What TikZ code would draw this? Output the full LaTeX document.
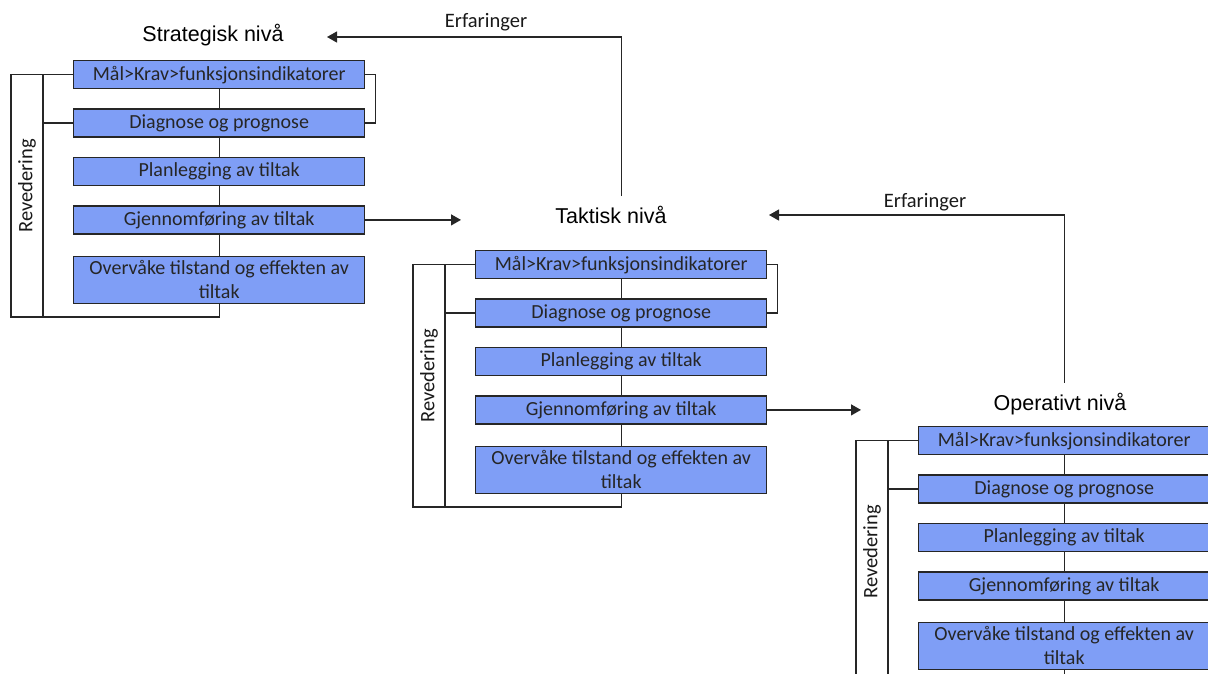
\documentclass[tikz,border=0pt]{standalone}
\usepackage{fontspec}
\setmainfont{Carlito}
\newfontfamily\titlefont{Liberation Sans}
\usetikzlibrary{positioning,arrows.meta,calc}
\definecolor{boksblaa}{RGB}{127,158,246}
\tikzset{
  boks/.style={draw=black!85, line width=1.4pt, fill=boksblaa, text=black!85,
    minimum width=291pt, minimum height=28pt, inner ysep=1pt, align=center,
    font=\fontsize{20}{24}\selectfont},
  tittel/.style={font=\titlefont\fontsize{21.5}{24}\selectfont, inner sep=2pt},
  etikett/.style={font=\fontsize{20.5}{24}\selectfont, text=black!90},
  linje/.style={draw=black!85, line width=1.3pt},
  pil/.style={linje, -{Triangle[length=10pt,width=11pt]}},
}
\begin{document}
\begin{tikzpicture}[x=1pt,y=-1pt]
    \newcommand{\nivaablokk}[3]{
        \node[boks, anchor=north west] (#1-1) at (#2,#3) {Mål>Krav>funksjonsindikatorer};
        \node[boks, below=19pt of #1-1] (#1-2) {Diagnose og prognose};
        \node[boks, below=19pt of #1-2] (#1-3) {Planlegging av tiltak};
        \node[boks, below=19pt of #1-3] (#1-4) {Gjennomføring av tiltak};
        \node[boks, below=21pt of #1-4, minimum height=47pt] (#1-5) {Overvåke tilstand og effekten av\\tiltak};
        \foreach \a/\b in {1/2,2/3,3/4,4/5} \draw[linje] (#1-\a) -- (#1-\b);
        \coordinate (#1-bunn) at ([yshift=-13pt]#1-5.south);
        \draw[linje] (#1-5.south) -- (#1-bunn) -| ([xshift=-62pt]#1-1.west) -- (#1-1.west);
        \draw[linje] ([xshift=-30pt]#1-1.west) -- ([xshift=-30pt]#1-1.west |- #1-bunn);
        \draw[linje] (#1-2.west) -- ([xshift=-30pt]#1-2.west);
        \node[etikett, rotate=90] (#1-rev) at ([xshift=-46pt,yshift=-126pt]#1-1.north west) {Revedering};
    }
  \useasboundingbox (0,0) rectangle (1208,673);
  \clip (0,0) rectangle (1208,673);

  \nivaablokk{str}{73}{60}
  \nivaablokk{tak}{475}{250}
  \nivaablokk{ope}{918}{426}

  \node[tittel] (str-tittel) at (213,35) {Strategisk nivå};
  \node[tittel] (tak-tittel) at (611,215) {Taktisk nivå};
  \node[tittel] (ope-tittel) at (1060,404) {Operativt nivå};

  \draw[linje] (str-1.east) -- ++(10,0) |- (str-2.east);
  \draw[linje] (tak-1.east) -- ++(10,0) |- (tak-2.east);

  \coordinate (tak-inn) at (461,215);
  \coordinate (ope-inn) at (861,406);
  \draw[pil] (str-4.east) -- (str-4.east -| tak-inn);
  \draw[pil] (tak-4.east) -- (tak-4.east -| ope-inn);

  % erfaringer tilbake
  \coordinate (str-tilbake) at (327,37);
  \coordinate (tak-tilbake) at (769,215);
  \draw[pil] ([yshift=8pt]tak-1.north |- tak-tittel.north) |- (str-tilbake);
  \draw[pil] ([yshift=8pt]ope-1.north |- ope-tittel.north) |- (tak-tilbake);
  \node[etikett] (erf1) at (486,22) {Erfaringer};
  \node[etikett] (erf2) at (925,202) {Erfaringer};

\end{tikzpicture}
\end{document}
